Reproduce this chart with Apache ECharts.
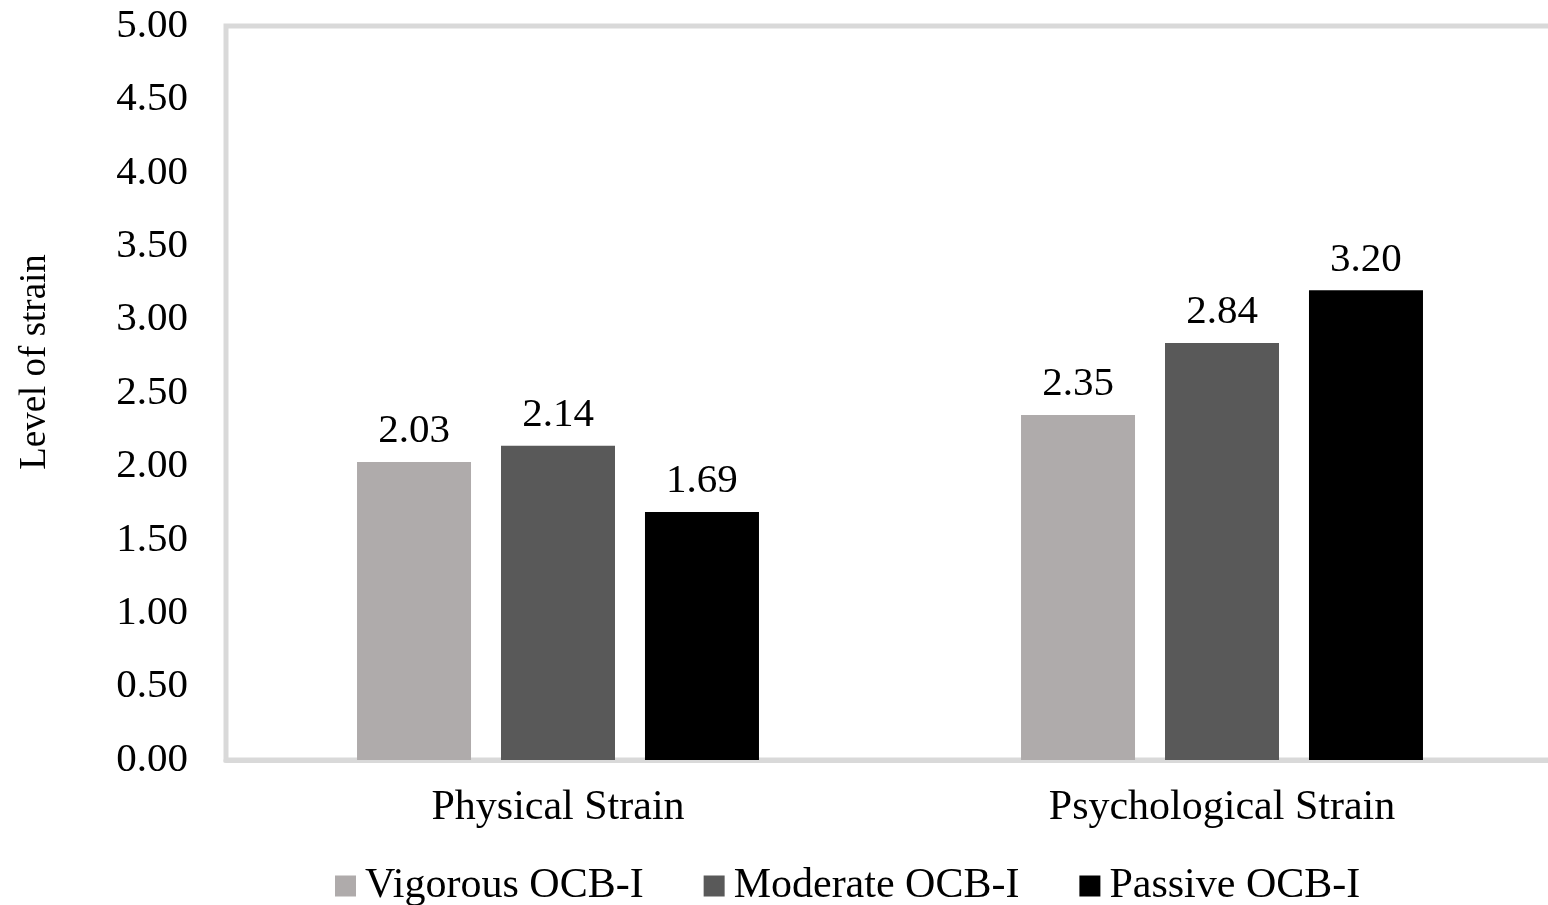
<!DOCTYPE html>
<html>
<head>
<meta charset="utf-8">
<script src="https://cdn.jsdelivr.net/npm/echarts@6/dist/echarts.min.js"></script>
<style>
  html, body { margin: 0; padding: 0; background: #ffffff; }
  #chart { width: 1548px; height: 905px; }
</style>
</head>
<body>
<div id="chart"></div>
<script>
// Strain levels by OCB-I group
const categories = ['Physical Strain', 'Psychological Strain'];
const vigorous = [2.03, 2.35];
const moderate = [2.14, 2.84];
const passive = [1.69, 3.20];
const seriesNames = ['Vigorous OCB-I', 'Moderate OCB-I', 'Passive OCB-I'];
const seriesColors = ['#AFABAB', '#595959', '#000000'];

const FONT = '"Liberation Serif", "Times New Roman", serif';

const chart = echarts.init(document.getElementById('chart'), null, { renderer: 'canvas' });

function barSeries(name, data, color) {
  return {
    name: name,
    type: 'bar',
    data: data,
    barWidth: 114,
    barGap: '26.3%',
    itemStyle: { color: color },
    label: {
      show: true,
      position: 'top',
      distance: 10,
      formatter: p => p.value.toFixed(2),
      fontFamily: FONT,
      fontSize: 41,
      color: '#000'
    }
  };
}

chart.setOption({
  animation: false,
  backgroundColor: '#ffffff',
  grid: {
    left: 226,
    top: 26,
    right: -6,
    bottom: 145,
    outerBoundsMode: 'none',
    show: true,
    borderColor: '#d9d9d9',
    borderWidth: 5,
    containLabel: false
  },
  graphic: [{
    type: 'text',
    x: 35,
    y: 362,
    rotation: Math.PI / 2,
    style: {
      text: 'Level of strain',
      font: '37px ' + FONT,
      fill: '#000',
      align: 'center',
      verticalAlign: 'middle'
    }
  }],
  legend: {
    data: seriesNames,
    top: 860,
    left: 330,
    icon: 'rect',
    itemWidth: 21,
    itemHeight: 21,
    itemGap: 60,
    textStyle: { fontFamily: FONT, fontSize: 42, color: '#000', padding: [0, 0, 0, 4] }
  },
  xAxis: {
    type: 'category',
    data: categories,
    axisLine: { show: true, lineStyle: { color: '#d9d9d9', width: 5 } },
    axisTick: { show: false },
    axisLabel: { fontFamily: FONT, fontSize: 42, color: '#000', margin: 27 }
  },
  yAxis: {
    type: 'value',
    min: 0,
    max: 5,
    interval: 0.5,
    splitLine: { show: false },
    axisLine: { show: false },
    axisTick: { show: false },
    axisLabel: {
      fontFamily: FONT,
      fontSize: 41,
      color: '#000',
      margin: 38,
      formatter: v => v.toFixed(2)
    }
  },
  series: [
    barSeries(seriesNames[0], vigorous, seriesColors[0]),
    barSeries(seriesNames[1], moderate, seriesColors[1]),
    barSeries(seriesNames[2], passive, seriesColors[2])
  ]
});
</script>
</body>
</html>
